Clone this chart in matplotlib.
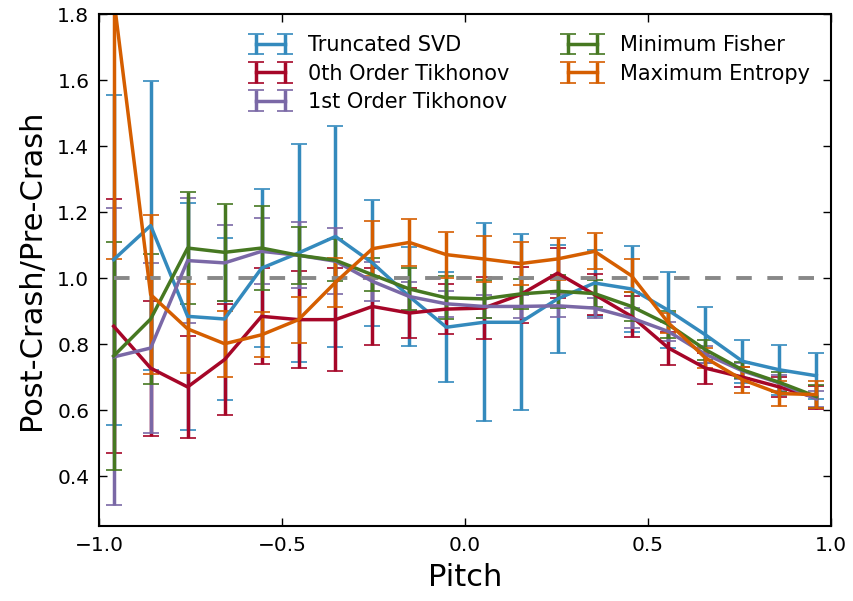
import numpy as np
import matplotlib
matplotlib.use("Agg")
import matplotlib.pyplot as plt

# pitch bin centres
pitch = [-0.96, -0.859, -0.758, -0.657, -0.556, -0.455, -0.354, -0.253, -0.152, -0.051,
         0.051, 0.152, 0.253, 0.354, 0.455, 0.556, 0.657, 0.758, 0.859, 0.96]

svd = [1.057, 1.160, 0.885, 0.877, 1.031, 1.077, 1.127, 1.047, 0.945, 0.852,
       0.867, 0.867, 0.938, 0.986, 0.968, 0.903, 0.829, 0.749, 0.723, 0.705]
svd_err = [0.50, 0.437, 0.343, 0.245, 0.24, 0.33, 0.335, 0.19, 0.15, 0.167,
           0.30, 0.267, 0.163, 0.10, 0.13, 0.115, 0.085, 0.065, 0.075, 0.07]

tik0 = [0.855, 0.728, 0.671, 0.754, 0.885, 0.875, 0.875, 0.915, 0.895, 0.907,
        0.91, 0.951, 1.016, 0.951, 0.885, 0.789, 0.728, 0.701, 0.671, 0.638]
tik0_err = [0.385, 0.205, 0.155, 0.168, 0.145, 0.148, 0.155, 0.117, 0.076, 0.077,
            0.093, 0.085, 0.076, 0.063, 0.063, 0.05, 0.047, 0.03, 0.03, 0.035]

tik1 = [0.762, 0.789, 1.054, 1.047, 1.082, 1.07, 1.052, 0.991, 0.945, 0.923,
        0.915, 0.915, 0.917, 0.91, 0.88, 0.839, 0.77, 0.72, 0.683, 0.635]
tik1_err = [0.45, 0.259, 0.19, 0.115, 0.10, 0.10, 0.10, 0.06, 0.045, 0.04,
            0.035, 0.035, 0.035, 0.03, 0.03, 0.03, 0.025, 0.025, 0.025, 0.025]

fisher = [0.765, 0.877, 1.092, 1.079, 1.092, 1.07, 1.055, 1.011, 0.968, 0.941,
          0.938, 0.953, 0.961, 0.954, 0.915, 0.86, 0.784, 0.723, 0.685, 0.642]
fisher_err = [0.345, 0.197, 0.17, 0.146, 0.127, 0.087, 0.063, 0.05, 0.063, 0.065,
              0.058, 0.045, 0.05, 0.04, 0.045, 0.04, 0.03, 0.025, 0.03, 0.035]

maxent = [1.85, 0.951, 0.847, 0.802, 0.829, 0.875, 0.988, 1.09, 1.109, 1.072,
          1.059, 1.045, 1.059, 1.082, 1.008, 0.865, 0.759, 0.693, 0.651, 0.648]
maxent_err = [0.79, 0.24, 0.135, 0.10, 0.068, 0.07, 0.075, 0.083, 0.072, 0.07,
              0.071, 0.065, 0.063, 0.055, 0.05, 0.03, 0.03, 0.04, 0.037, 0.04]

series = [
    ("Truncated SVD", svd, svd_err, "#348ABD"),
    ("0th Order Tikhonov", tik0, tik0_err, "#A60628"),
    ("1st Order Tikhonov", tik1, tik1_err, "#7A68A6"),
    ("Minimum Fisher", fisher, fisher_err, "#467821"),
    ("Maximum Entropy", maxent, maxent_err, "#D55E00"),
]

plt.rcParams["xtick.direction"] = "in"
plt.rcParams["ytick.direction"] = "in"
plt.rcParams["xtick.top"] = True
plt.rcParams["ytick.right"] = True
plt.rcParams["xtick.major.size"] = 6
plt.rcParams["ytick.major.size"] = 6

fig = plt.figure(figsize=(8.54, 6.01), dpi=100)
ax = fig.add_axes([0.116, 0.125, 0.857, 0.851])

for label, vals, errs, color in series:
    ax.errorbar(pitch, vals, yerr=errs, color=color, linewidth=2.5,
                elinewidth=2.5, capsize=5.5, capthick=1.2, label=label)

# reference line at ratio 1
ax.plot(pitch, np.ones(len(pitch)), color="#888888", linewidth=2.8,
        linestyle=(0, (4, 4)))

ax.set_xlim(-1.0, 1.0)
ax.set_ylim(0.25, 1.8)
ax.set_xticks([-1.0, -0.5, 0.0, 0.5, 1.0])
ax.set_yticks([0.4, 0.6, 0.8, 1.0, 1.2, 1.4, 1.6, 1.8])
ax.tick_params(labelsize=14.5, width=1, pad=7)
for s in ax.spines.values():
    s.set_linewidth(1.5)

ax.set_xlabel("Pitch", fontsize=22, labelpad=6)
ax.set_ylabel("Post-Crash/Pre-Crash", fontsize=22, labelpad=8)

ax.legend(loc="upper right", ncol=2, numpoints=2, frameon=False,
          fontsize=15, handlelength=2.0, columnspacing=2.5,
          labelspacing=0.4, borderaxespad=0.6)

plt.savefig("out.png", dpi=100)
